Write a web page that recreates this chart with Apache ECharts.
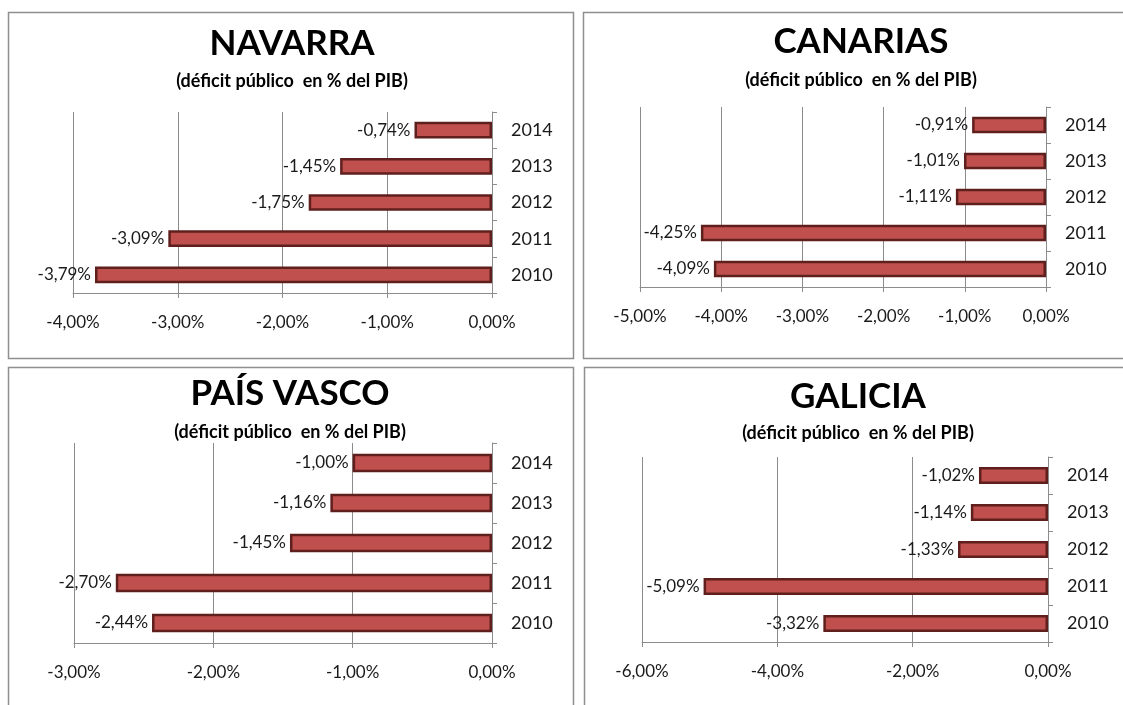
<!DOCTYPE html>
<html>
<head>
<meta charset="utf-8">
<script src="https://cdn.jsdelivr.net/npm/echarts@6/dist/echarts.min.js"></script>
<style>
  html, body { margin: 0; padding: 0; background: #fff; }
  #chart { width: 1123px; height: 705px; }
</style>
</head>
<body>
<div id="chart"></div>
<script>
// datos (déficit público en % del PIB)
var years = ['2010', '2011', '2012', '2013', '2014'];
var navarra = [-3.79, -3.09, -1.75, -1.45, -0.74];
var canarias = [-4.09, -4.25, -1.11, -1.01, -0.91];
var paisVasco = [-2.44, -2.70, -1.45, -1.16, -1.00];
var galicia = [-3.32, -5.09, -1.33, -1.14, -1.02];

var regiones = ['NAVARRA', 'CANARIAS', 'PAÍS VASCO', 'GALICIA'];
var subtitulo = '(déficit público  en % del PIB)';
var ejeMin = [-4, -5, -3, -6];
var ejeInterval = [1, 1, 1, 2];

var FONT = 'Lato';
var GRIS = '#8c8c8c';

// posiciones de cada panel
var grids = [
    { left: 73, top: 112, width: 419, height: 181 },
    { left: 640, top: 107, width: 406, height: 180 },
    { left: 74, top: 443, width: 418, height: 200 },
    { left: 642, top: 457, width: 406, height: 185 }
];
var titulosPos = [[292, 44, 81], [861, 42, 80], [290, 394, 432], [858, 397, 433]];
var marcos = [[8, 12, 565, 346], [583, 12, 560, 346], [8, 367, 565, 360], [584, 367, 560, 360]];

function fmt(v) {
    return v.toFixed(2).replace('.', ',') + '%';
}

var xAxes = [], yAxes = [], series = [], graphic = [];
var datos = [navarra, canarias, paisVasco, galicia];

for (let i = 0; i < 4; i++) {
    xAxes.push({
        type: 'value',
        gridIndex: i,
        min: ejeMin[i],
        max: 0,
        interval: ejeInterval[i],
        axisLine: { show: true, lineStyle: { color: GRIS } },
        axisTick: { show: true, length: 5, lineStyle: { color: GRIS } },
        splitLine: { show: true, lineStyle: { color: GRIS } },
        axisLabel: {
            margin: 21,
            color: '#1a1a1a',
            fontFamily: FONT,
            fontSize: 17,
            formatter: function (v) { return fmt(v); }
        }
    });
    yAxes.push({
        type: 'category',
        gridIndex: i,
        position: 'right',
        data: years,
        axisLine: { show: true, onZero: false, lineStyle: { color: GRIS } },
        axisTick: { show: true, length: 5, lineStyle: { color: GRIS } },
        axisLabel: { margin: 19, color: '#1a1a1a', fontFamily: FONT, fontSize: 18 }
    });
    series.push({
        type: 'bar',
        xAxisIndex: i,
        yAxisIndex: i,
        data: datos[i],
        barWidth: '46%',
        itemStyle: { color: '#C0504D', borderColor: '#5e1f1d', borderWidth: 2.5 },
        label: {
            show: true,
            position: 'left',
            distance: 4,
            color: '#1a1a1a',
            fontFamily: FONT,
            fontSize: 17,
            formatter: function (p) { return fmt(p.value); }
        }
    });

    var m = marcos[i];
    graphic.push({
        type: 'rect',
        shape: { x: m[0] + 0.5, y: m[1] + 0.5, width: m[2], height: m[3] },
        style: { fill: 'none', stroke: '#8f8f8f', lineWidth: 1.5 },
        z: -10
    });
    var t = titulosPos[i];
    graphic.push({
        type: 'text',
        x: t[0], y: t[1],
        style: {
            text: regiones[i], fill: '#000', font: 'bold 35px ' + FONT,
            textAlign: 'center', textVerticalAlign: 'middle'
        }
    });
    graphic.push({
        type: 'text',
        x: t[0], y: t[2],
        style: {
            text: subtitulo, fill: '#000', font: 'bold 18px ' + FONT,
            textAlign: 'center', textVerticalAlign: 'middle'
        }
    });
}

var myChart = echarts.init(document.getElementById('chart'));
var option = {
    animation: false,
    backgroundColor: '#fff',
    grid: grids,
    xAxis: xAxes,
    yAxis: yAxes,
    series: series,
    graphic: graphic
};
myChart.setOption(option);
</script>
</body>
</html>
